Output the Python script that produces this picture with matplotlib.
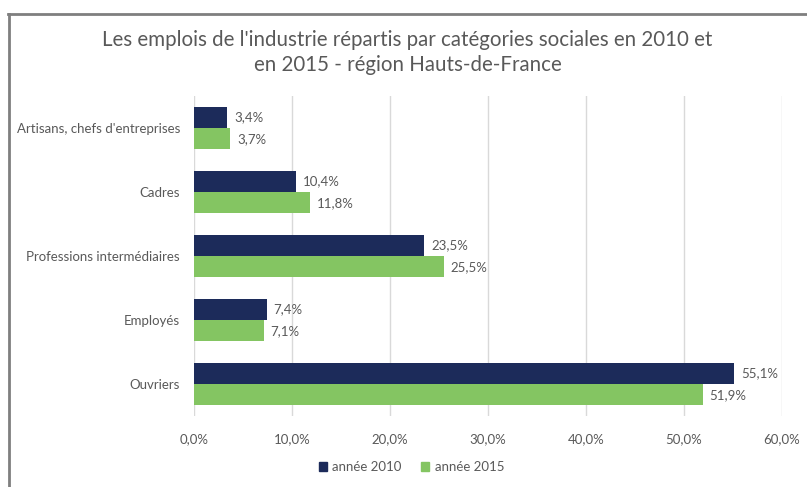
import matplotlib
matplotlib.use("Agg")
import matplotlib.pyplot as plt
import numpy as np
from matplotlib.patches import Rectangle
from matplotlib.lines import Line2D

categories = ["Artisans, chefs d'entreprises", "Cadres", "Professions intermédiaires", "Employés", "Ouvriers"]
values_2010 = [3.4, 10.4, 23.5, 7.4, 55.1]
values_2015 = [3.7, 11.8, 25.5, 7.1, 51.9]
series_names = ["année 2010", "année 2015"]
xticks = [0, 10, 20, 30, 40, 50, 60]

plt.rcParams['font.family'] = ['Lato', 'DejaVu Sans']
navy = '#1C2B5A'
green = '#84C562'
gray_text = '#595959'

fig = plt.figure(figsize=(8.07, 4.87), dpi=100)
ax = fig.add_axes([0.2404, 0.1458, 0.969 - 0.2404, 0.8029 - 0.1458])

y = np.arange(len(categories))
h = 0.335
b1 = ax.barh(y - h/2, values_2010, height=h, color=navy, label=series_names[0])
b2 = ax.barh(y + h/2, values_2015, height=h, color=green, label=series_names[1])

for bars, vals in ((b1, values_2010), (b2, values_2015)):
    for bar, v in zip(bars, vals):
        ax.annotate(f"{v:.1f}%".replace('.', ','), (bar.get_width(), bar.get_y() + bar.get_height()/2),
                    xytext=(5, 0), textcoords='offset points', va='center', ha='left',
                    fontsize=9.5, color=gray_text)

ax.set_ylim(len(categories) - 0.5, -0.5)
ax.set_xlim(0, 60)
ax.set_xticks(xticks)
ax.set_xticklabels([f"{t:.1f}%".replace('.', ',') for t in xticks], fontsize=9.5, color=gray_text)
ax.set_yticks(y)
ax.set_yticklabels(categories, fontsize=9.5, color=gray_text)
ax.tick_params(axis='both', length=0)
ax.tick_params(axis='x', pad=12)
ax.tick_params(axis='y', pad=10)
ax.grid(axis='x', color='#D9D9D9', linewidth=1)
ax.set_axisbelow(True)
for s in ax.spines.values():
    s.set_visible(False)

fig.text(0.505, 0.918, "Les emplois de l'industrie répartis par catégories sociales en 2010 et",
         ha='center', va='center', fontsize=14.8, color=gray_text)
fig.text(0.505, 0.866, "en 2015 - région Hauts-de-France",
         ha='center', va='center', fontsize=14.8, color=gray_text)

# frame border
fig.add_artist(Line2D([8/807, 1.0], [1 - 13.5/487, 1 - 13.5/487], transform=fig.transFigure,
                      color='#7F7F7F', linewidth=2))
fig.add_artist(Line2D([8.5/807, 8.5/807], [0, 1 - 13.5/487], transform=fig.transFigure,
                      color='#7F7F7F', linewidth=2))

handles = [Rectangle((0, 0), 1, 1, color=navy), Rectangle((0, 0), 1, 1, color=green)]
fig.legend(handles, series_names, loc='center', bbox_to_anchor=(0.51, 0.041), ncol=2,
           frameon=False, fontsize=9.5, handlelength=0.6, handleheight=0.6, handletextpad=0.4,
           columnspacing=1.5, labelcolor=gray_text)

fig.savefig("out.png", dpi=100)
